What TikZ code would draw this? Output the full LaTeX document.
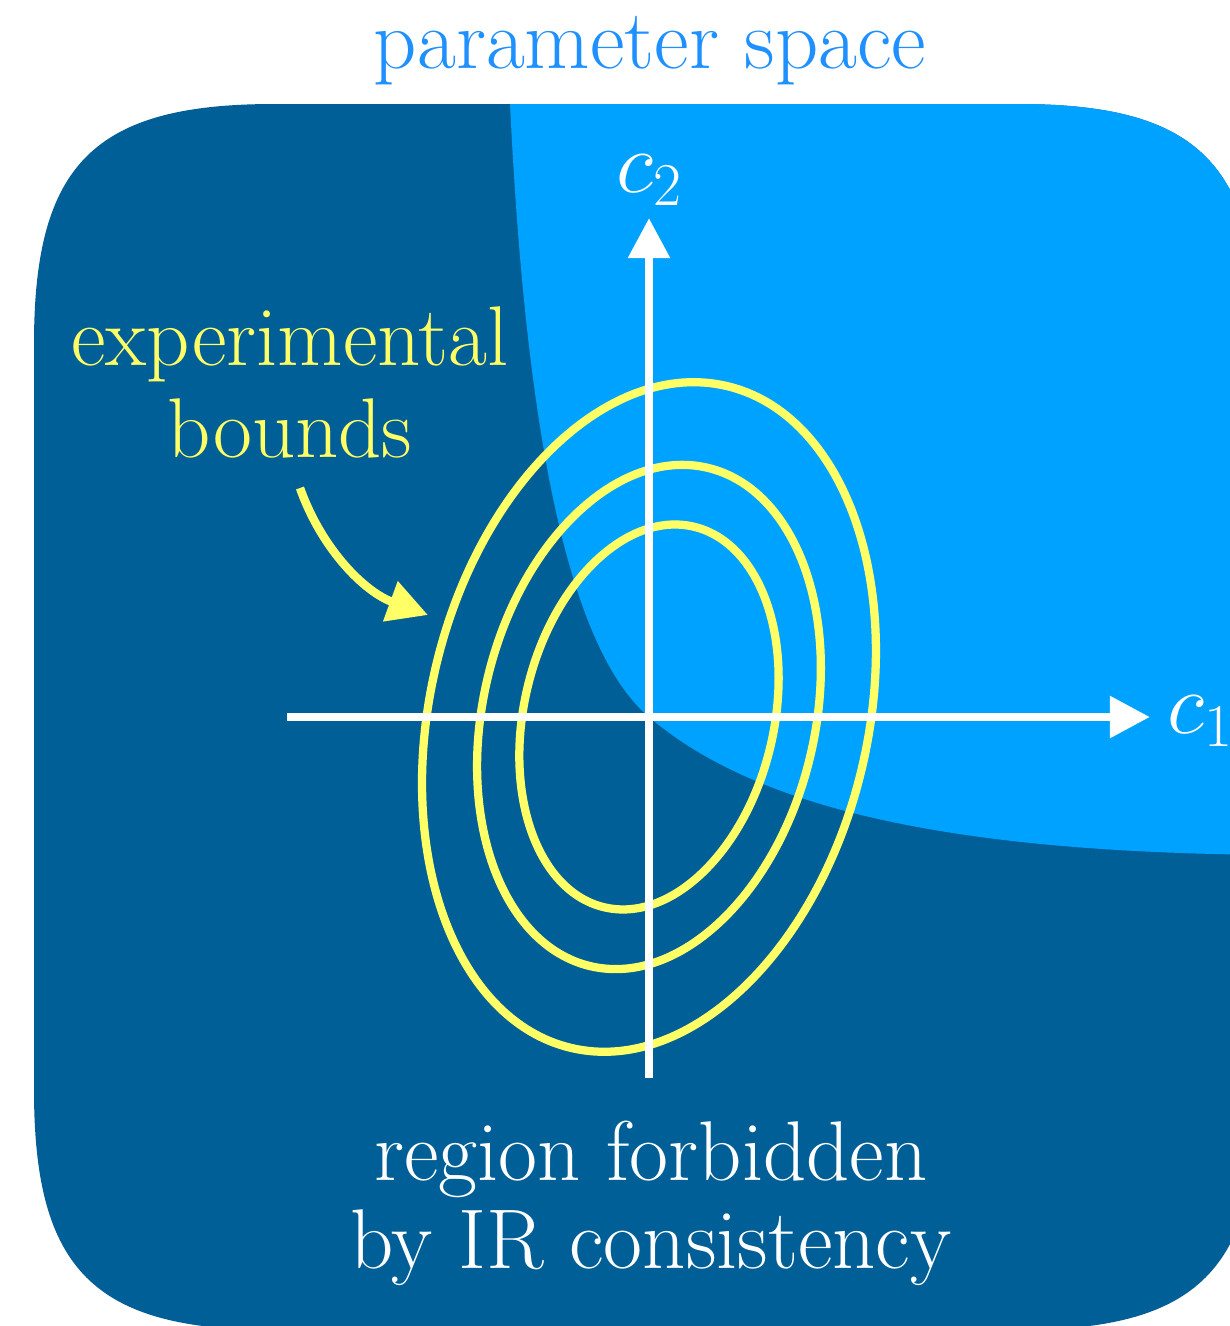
\documentclass[tikz,border=0pt]{standalone}
\usetikzlibrary{arrows.meta}
\definecolor{darkb}{HTML}{005F96}
\definecolor{lightb}{HTML}{00A2FF}
\definecolor{titleb}{HTML}{1E90FF}
\definecolor{yel}{HTML}{FFFF66}
\def\bgshape{(34,344) .. controls (34,164) and (94,104) .. (274,104) -- (1018,104)
  .. controls (1198,104) and (1258,164) .. (1258,344) -- (1258,1090)
  .. controls (1258,1270) and (1198,1330) .. (1018,1330) -- (274,1330)
  .. controls (94,1330) and (34,1270) .. (34,1090) -- cycle}
\begin{document}
\begin{tikzpicture}[x=0.01cm,y=-0.01cm,
  lbl/.style={font=\fontsize{24.1}{28.9}\selectfont, inner sep=0pt, anchor=base},
  axisline/.style={white, line width=2.42pt, -{Triangle[length=11.4pt,width=11.4pt]}},
  ell/.style={yel, line width=2.35pt},
  yarrow/.style={yel, line width=2.4pt, -{Triangle[length=11.4pt,width=11.6pt]}}]
\useasboundingbox (0,0) rectangle (1230,1326);
\fill[white] (0,0) rectangle (1230,1326);
\begin{scope}
\clip (0,0) rectangle (1230,1326);
\fill[darkb] \bgshape;
\begin{scope}
\clip \bgshape;
\fill[lightb] (1400,0) -- (505,0) -- (510,103) .. controls (526,440) and (570,650) .. (649,717)
  .. controls (756,808) and (950,855) .. (1300,855) -- (1400,856) -- cycle;
\end{scope}
\end{scope}
\coordinate (O) at (649,717);
\coordinate (xl) at (287,717);
\coordinate (xr) at (1150,717);
\coordinate (yb) at (649,1078);
\coordinate (yt) at (649,218);
% ellipses
\draw[ell, rotate around={-13.2:(O)}] (O) ellipse [x radius=219, y radius=340];
\draw[ell, rotate around={-13.2:(O)}] (O) ellipse [x radius=166, y radius=256];
\draw[ell, rotate around={-13.2:(O)}] (O) ellipse [x radius=125, y radius=195.5];
% axes
\draw[axisline] (xl) -- (xr);
\draw[axisline] (yb) -- (yt);
% labels
\node[lbl, text=titleb] (title) at (650,68) {parameter space};
\node[lbl, text=white] (c2) at (650,192) {$c_2$};
\node[lbl, text=white] (c1) at (1201,733) {$c_1$};
\node[lbl, text=yel] (exp1) at (290,365) {experimental};
\node[lbl, text=yel] (exp2) at (290,457) {bounds};
\node[lbl, text=white] (reg1) at (651,1180) {region forbidden};
\node[lbl, text=white] (reg2) at (651,1268) {by IR consistency};
% curved arrow
\coordinate (arrS) at (300,488);
\coordinate (arrE) at (428,615);
\draw[yarrow] (arrS) .. controls (322,550) and (365,592) .. (arrE);
\end{tikzpicture}
\end{document}
